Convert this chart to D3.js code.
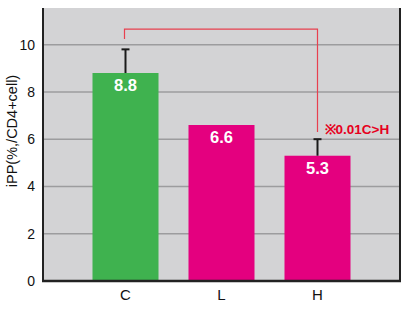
<!DOCTYPE html>
<html><head><meta charset="utf-8">
<script src="https://cdn.jsdelivr.net/npm/d3@7"></script>
<style>body{margin:0;background:#fff}svg{display:block;font-family:"Liberation Sans",Arial,sans-serif}</style>
</head><body><svg id="c" width="411" height="312"></svg>
<script>
const categories = ["C","L","H"];
const values = [8.8, 6.6, 5.3];
const errors = [1.0, null, 0.7];
const barColors = ["#3fb24f","#e4007f","#e4007f"];
const yTicks = [0,2,4,6,8,10];
const yTitle = "iPP(%,/CD4+cell)";
const sigText = "※0.01C>H";

const svg = d3.select("#c");
const L = 43, R = 400, T = 8, B = 281;
const x = d3.scaleBand().domain(categories).range([L,R]).paddingInner(0.3125).paddingOuter(0.5156);
const y = d3.scaleLinear().domain([0, 11.55]).range([B, T]);

svg.append("rect").attr("x",L).attr("y",T).attr("width",R-L).attr("height",B-T).attr("fill","#d3d3d5");
svg.append("g").selectAll("line").data(yTicks.filter(d=>d>0)).join("line")
  .attr("x1",L).attr("x2",R).attr("y1",d=>y(d)).attr("y2",d=>y(d))
  .attr("stroke","#9c9c9e").attr("stroke-width",1.5);

svg.append("g").selectAll("rect").data(categories).join("rect")
  .attr("x",d=>x(d)).attr("width",x.bandwidth())
  .attr("y",(d,i)=>y(values[i])).attr("height",(d,i)=>B-y(values[i]))
  .attr("fill",(d,i)=>barColors[i]);

// error bars
categories.forEach((c,i)=>{
  if(errors[i]==null) return;
  const cx = x(c)+x.bandwidth()/2;
  svg.append("line").attr("x1",cx).attr("x2",cx).attr("y1",y(values[i])).attr("y2",y(values[i]+errors[i])).attr("stroke","#1a1a1a").attr("stroke-width",2);
  svg.append("line").attr("x1",cx-4).attr("x2",cx+4).attr("y1",y(values[i]+errors[i])).attr("y2",y(values[i]+errors[i])).attr("stroke","#1a1a1a").attr("stroke-width",2);
});

// value labels
svg.append("g").selectAll("text").data(categories).join("text")
  .attr("x",d=>x(d)+x.bandwidth()/2).attr("y",(d,i)=>y(values[i])+18)
  .attr("text-anchor","middle").attr("fill","#fff").attr("font-weight","bold").attr("font-size",16.5)
  .text((d,i)=>values[i].toFixed(1));

// significance bracket
const cC = x("C")+x.bandwidth()/2 - 1, cH = x("H")+x.bandwidth()/2;
svg.append("path").attr("d",`M${cC},${y(10.24)}V${y(10.66)}H${cH}V${y(6.3)}`)
  .attr("fill","none").attr("stroke","#e8404f").attr("stroke-width",1.2);
svg.append("text").attr("x",cH+7).attr("y",y(6.22)).attr("fill","#e60020").attr("font-weight","bold").attr("font-size",13.5).text(sigText);

// axes
const ya = svg.append("g").attr("transform",`translate(${L},0)`).call(d3.axisLeft(y).tickValues(yTicks).tickSize(0).tickPadding(8).tickFormat(d3.format("d")));
ya.select(".domain").remove();
ya.selectAll("text").attr("font-size",14).attr("fill","#111").style("font-family","Liberation Sans, Arial, sans-serif");
const xa = svg.append("g").attr("transform",`translate(0,${B})`).call(d3.axisBottom(x).tickSize(0).tickPadding(8));
xa.select(".domain").remove();
xa.selectAll("text").attr("font-size",15).attr("fill","#111").style("font-family","Liberation Sans, Arial, sans-serif");

svg.append("line").attr("x1",L).attr("x2",L).attr("y1",T).attr("y2",B+1).attr("stroke","#222").attr("stroke-width",2);
svg.append("line").attr("x1",R).attr("x2",R).attr("y1",T).attr("y2",B+1).attr("stroke","#222").attr("stroke-width",2);
svg.append("line").attr("x1",L-1).attr("x2",R+1).attr("y1",B).attr("y2",B).attr("stroke","#222").attr("stroke-width",2.5);

svg.append("text").attr("transform",`translate(17,131) rotate(-90)`).attr("text-anchor","middle")
  .attr("font-size",14.5).attr("fill","#111").text(yTitle);
</script></body></html>
